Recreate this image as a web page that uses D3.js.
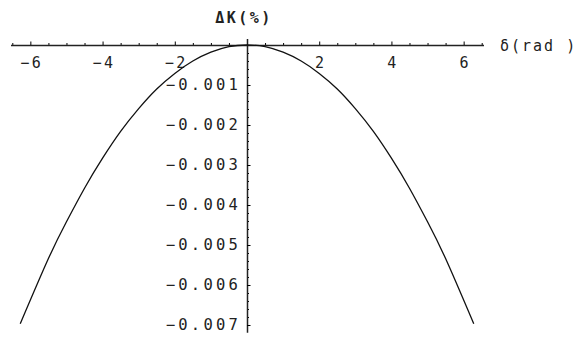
<!DOCTYPE html>
<html>
<head>
<meta charset="utf-8">
<script src="https://cdn.jsdelivr.net/npm/d3@7"></script>
<style>
  body { margin: 0; background: #fff; }
  svg text { font-family: "DejaVu Sans Mono", "Liberation Mono", monospace; fill: #222; }
</style>
</head>
<body>
<script>
// readings taken off the plotted curve
const deltaVals = [-6.28, -5.5, -5, -4.5, -4, -3.5, -3, -2.5, -2, -1.5, -1, -0.5, 0, 0.5, 1, 1.5, 2, 2.5, 3, 3.5, 4, 4.5, 5, 5.5, 6.28];
const dKVals = [-0.00697, -0.00534, -0.00442, -0.00358, -0.00283, -0.00216, -0.00159, -0.0011, -0.00071, -0.0004, -0.00018, -0.00004, 0,
  -0.00004, -0.00018, -0.0004, -0.00071, -0.0011, -0.00159, -0.00216, -0.00283, -0.00358, -0.00442, -0.00534, -0.00697];
const xTicks = [-6, -4, -2, 2, 4, 6];
const yTicks = [-0.001, -0.002, -0.003, -0.004, -0.005, -0.006, -0.007];

const width = 579, height = 343;

const svg = d3.select("body").append("svg")
    .attr("width", width)
    .attr("height", height);

const x = d3.scaleLinear().domain([-6.55, 6.55]).range([10.5, 483.5]);
const y = d3.scaleLinear().domain([0, -0.007]).range([45, 325]);

const points = deltaVals.map((d, i) => ({ x: d, y: dKVals[i] }));

// minor ticks on x axis
const xMinor = d3.range(-6.5, 6.51, 0.5).filter(v => v !== 0 && xTicks.indexOf(v) < 0);
svg.append("g")
    .attr("transform", `translate(0, ${y(0)})`)
    .call(d3.axisBottom(x).tickValues(xMinor).tickSize(-2).tickFormat(""))
    .call(g => g.select(".domain").remove());

const xAxis = svg.append("g")
    .attr("transform", `translate(0, ${y(0)})`)
    .call(d3.axisBottom(x).tickValues(xTicks).tickSize(-3.5).tickSizeOuter(0).tickPadding(12)
        .tickFormat(d => d < 0 ? "\u2212" + Math.abs(d) : d));
xAxis.select(".domain").attr("stroke", "#222").attr("stroke-width", 1.5);
xAxis.selectAll("text").attr("font-size", 15).attr("letter-spacing", 2.5).attr("dx", 1);

// y axis
const yAxisScale = y.copy().domain([0.00016, -0.00718]).range([y(0.00016), y(-0.00718)]);
svg.append("g")
    .attr("transform", `translate(${x(0)}, 0)`)
    .call(d3.axisLeft(yAxisScale).tickValues(d3.range(-0.0002, -0.00701, -0.0002).filter(v => Math.abs(v * 1000 - Math.round(v * 1000)) > 1e-6))
        .tickSize(-2).tickFormat(""))
    .call(g => g.select(".domain").remove());

const yAxis = svg.append("g")
    .attr("transform", `translate(${x(0)}, 0)`)
    .call(d3.axisLeft(yAxisScale).tickValues(yTicks).tickSize(-3.5).tickSizeOuter(0).tickPadding(6)
        .tickFormat(d => "\u2212" + d3.format(".3f")(Math.abs(d))));
yAxis.select(".domain").attr("stroke", "#222").attr("stroke-width", 1.5);
yAxis.selectAll("text").attr("font-size", 15.5).attr("letter-spacing", 3.2);

// curve
const line = d3.line()
    .curve(d3.curveNatural)
    .x(d => x(d.x)).y(d => y(d.y));
svg.append("path")
    .datum(points)
    .attr("fill", "none")
    .attr("stroke", "#111")
    .attr("stroke-width", 1.3)
    .attr("d", line);

// axis labels
svg.append("text")
    .attr("x", 244).attr("y", 23)
    .attr("text-anchor", "middle")
    .attr("font-size", 15).attr("font-weight", "bold").attr("letter-spacing", 2.5)
    .text("ΔK(%)");

svg.append("text")
    .attr("x", 500).attr("y", 51)
    .attr("font-size", 15).attr("letter-spacing", 2)
    .text("δ(rad )");
</script>
</body>
</html>
